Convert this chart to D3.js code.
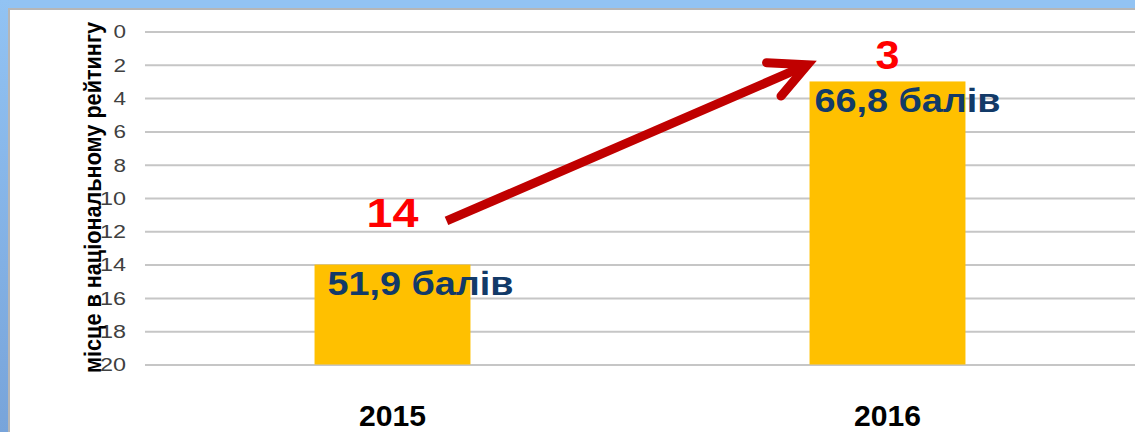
<!DOCTYPE html>
<html>
<head>
<meta charset="utf-8">
<script src="https://cdn.jsdelivr.net/npm/d3@7"></script>
<style>
  html, body { margin: 0; padding: 0; background: #fff; }
  svg { display: block; }
</style>
</head>
<body>
<svg id="chart" width="1135" height="432"></svg>
<script>
// ---- data ----
const categories = ["2015", "2016"];
const ranks = [14, 3];                       // place in national rating
const scoreLabels = ["51,9 балів", "66,8 балів"];
const rankLabels = ["14", "3"];
const yTicks = [0, 2, 4, 6, 8, 10, 12, 14, 16, 18, 20];
const yTitle = "місце в національному рейтингу";

const W = 1135, H = 432;
const svg = d3.select("#chart");

// ---- frame ----
const defs = svg.append("defs");
const lg = defs.append("linearGradient").attr("id", "leftBand")
  .attr("x1", 0).attr("y1", 0).attr("x2", 0).attr("y2", 1);
lg.append("stop").attr("offset", "0%").attr("stop-color", "#92c3f3");
lg.append("stop").attr("offset", "100%").attr("stop-color", "#78a4da");

svg.append("rect").attr("x", 0).attr("y", 0).attr("width", W).attr("height", H).attr("fill", "#92c3f3");
svg.append("rect").attr("x", 0).attr("y", 0).attr("width", 9).attr("height", H).attr("fill", "url(#leftBand)");
svg.append("rect").attr("x", 8).attr("y", 8).attr("width", W - 8).attr("height", H - 8).attr("fill", "#b6b6b6");
svg.append("rect").attr("x", 10).attr("y", 10).attr("width", W - 10).attr("height", H - 10).attr("fill", "#ffffff");

// ---- scales ----
const plotLeft = 145, plotRight = 1135;
const y = d3.scaleLinear().domain([0, 20]).range([31.5, 364.5]);
const x = d3.scaleBand().domain(categories).range([plotLeft, plotRight]).padding(0);
const barW = x.bandwidth() * 0.315;
const cx = c => x(c) + x.bandwidth() / 2;

// ---- y axis with gridlines ----
const yAxis = d3.axisLeft(y).tickValues(yTicks).tickSize(-(plotRight - plotLeft)).tickPadding(19)
  .tickFormat(d3.format("d"));
const gy = svg.append("g").attr("transform", `translate(${plotLeft},0)`).call(yAxis);
gy.select(".domain").remove();
gy.selectAll(".tick line").attr("stroke", "#c6c6c6").attr("stroke-width", 2);
gy.selectAll(".tick text")
  .attr("fill", "#404040")
  .style("font-family", "'Liberation Sans', Arial, sans-serif")
  .style("font-size", "17.5px")
  .attr("dy", "0.36em")
  .attr("textLength", d => String(d).length === 1 ? 12.5 : 26)
  .attr("lengthAdjust", "spacingAndGlyphs");

// ---- y title ----
svg.append("text")
  .attr("transform", `translate(101,${(22 + 373) / 2}) rotate(-90)`)
  .attr("text-anchor", "middle")
  .style("font-family", "'Liberation Sans', Arial, sans-serif")
  .style("font-weight", "bold")
  .style("font-size", "24px")
  .attr("fill", "#000")
  .attr("textLength", 351)
  .attr("lengthAdjust", "spacingAndGlyphs")
  .text(yTitle);

// ---- bars ----
svg.append("g").selectAll("rect").data(categories).join("rect")
  .attr("x", (c) => cx(c) - barW / 2)
  .attr("y", (c, i) => y(ranks[i]))
  .attr("width", barW)
  .attr("height", (c, i) => y(20) - y(ranks[i]))
  .attr("fill", "#ffc000");

// ---- category labels ----
svg.append("g").selectAll("text").data(categories).join("text")
  .attr("x", c => cx(c))
  .attr("y", 426)
  .attr("text-anchor", "middle")
  .style("font-family", "'Liberation Sans', Arial, sans-serif")
  .style("font-weight", "bold")
  .style("font-size", "30px")
  .attr("fill", "#000")
  .attr("textLength", 67)
  .attr("lengthAdjust", "spacingAndGlyphs")
  .text(c => c);

// ---- score labels (inside bar tops) ----
const scoreDx = [13, 5];
const scoreDy = [30, 31];
svg.append("g").selectAll("text").data(categories).join("text")
  .attr("x", (c, i) => cx(c) - barW / 2 + scoreDx[i])
  .attr("y", (c, i) => y(ranks[i]) + scoreDy[i])
  .style("font-family", "'Liberation Sans', Arial, sans-serif")
  .style("font-weight", "bold")
  .style("font-size", "34px")
  .attr("fill", "#123a68")
  .attr("textLength", 186)
  .attr("lengthAdjust", "spacingAndGlyphs")
  .text((c, i) => scoreLabels[i]);

// ---- rank labels (red) ----
const rankDy = [-37.5, -12.5];
svg.append("g").selectAll("text").data(categories).join("text")
  .attr("x", c => cx(c))
  .attr("y", (c, i) => y(ranks[i]) + rankDy[i])
  .attr("text-anchor", "middle")
  .style("font-family", "'Liberation Sans', Arial, sans-serif")
  .style("font-weight", "bold")
  .style("font-size", "40px")
  .attr("fill", "#ff0000")
  .attr("textLength", (c, i) => rankLabels[i].length === 1 ? 24 : 52)
  .attr("lengthAdjust", "spacingAndGlyphs")
  .text((c, i) => rankLabels[i]);

// ---- arrow annotation ----
const x0 = cx(categories[0]) + 54, y0 = y(11.38);
const x1 = cx(categories[1]) - 80, y1 = y(2.0);
const ang = Math.atan2(y1 - y0, x1 - x0);
const back = ang + Math.PI;
const spread = 0.46, barb = 41;
const b1 = [x1 + barb * Math.cos(back - spread), y1 + barb * Math.sin(back - spread)];
const b2 = [x1 + barb * Math.cos(back + spread), y1 + barb * Math.sin(back + spread)];
const arrow = svg.append("g").attr("fill", "none").attr("stroke", "#c00000").attr("stroke-width", 9);
arrow.append("line").attr("x1", x0).attr("y1", y0).attr("x2", x1 - 3 * Math.cos(ang)).attr("y2", y1 - 3 * Math.sin(ang));
arrow.append("path")
  .attr("d", `M${b1[0]},${b1[1]} L${x1},${y1} L${b2[0]},${b2[1]}`)
  .attr("stroke-linecap", "round")
  .attr("stroke-linejoin", "miter");
</script>
</body>
</html>
